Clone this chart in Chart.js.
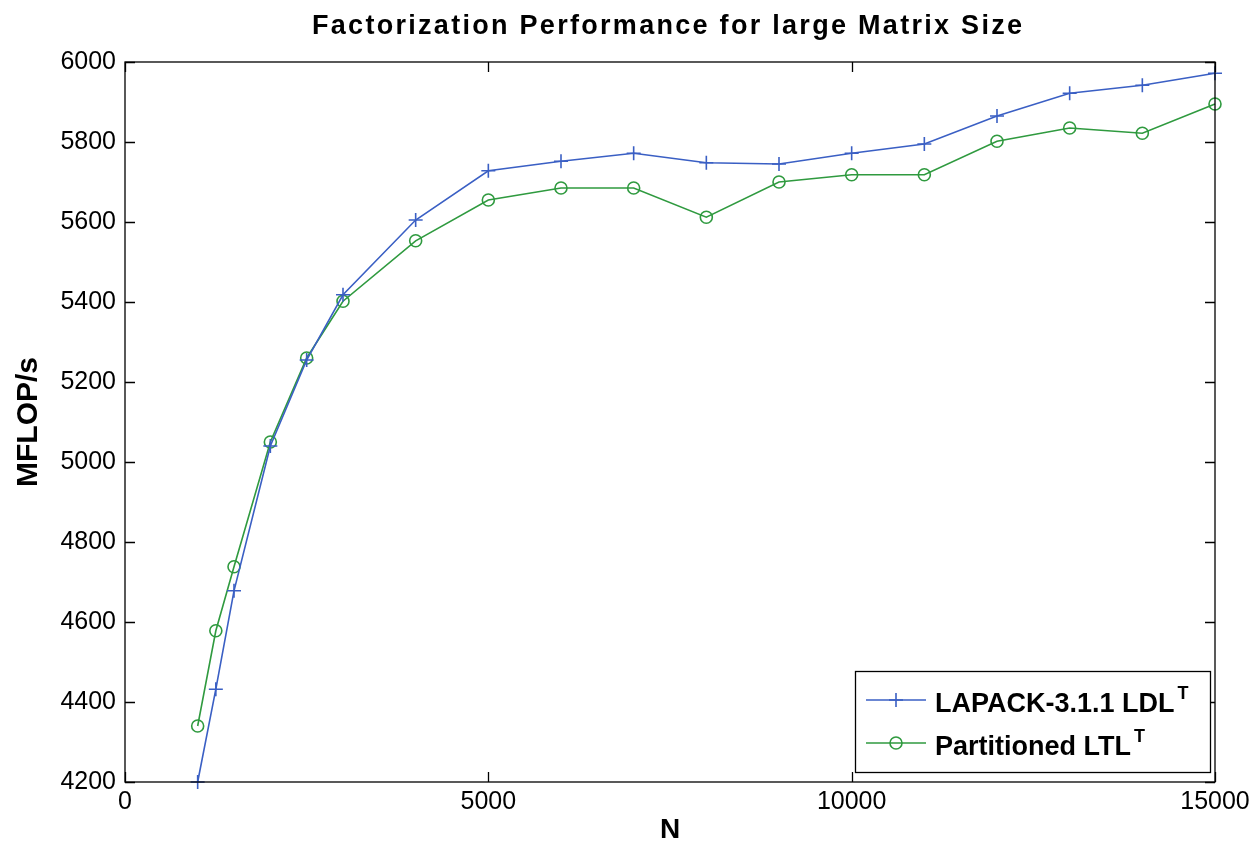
<!DOCTYPE html>
<html>
<head>
<meta charset="utf-8">
<script src="https://cdn.jsdelivr.net/npm/chart.js@4/dist/chart.umd.min.js"></script>
<style>
html,body{margin:0;padding:0;background:#fff;}
#wrap{width:1255px;height:851px;}
</style>
</head>
<body>
<div id="wrap"><canvas id="c" width="1255" height="851"></canvas></div>
<script>
const N = [1000,1250,1500,2000,2500,3000,4000,5000,6000,7000,8000,9000,10000,11000,12000,13000,14000,15000];
const lapack = [4200,4432,4678,5040,5255,5418,5605,5728,5752,5772,5748,5745,5772,5795,5865,5922,5942,5972];
const partitioned = [4340,4578,4738,5050,5260,5402,5553,5655,5685,5685,5612,5700,5718,5718,5802,5835,5822,5895];
const xTicks = [0,5000,10000,15000];
const yTicks = [4200,4400,4600,4800,5000,5200,5400,5600,5800,6000];
const seriesNames = ['LAPACK-3.1.1 LDL','Partitioned LTL'];
const seriesSup = ['T','T'];
const titleText = 'Factorization Performance for large Matrix Size';
const blue = '#3a5fc4';
const green = '#2f9a3f';
const FONT = '"Liberation Sans", Arial, Helvetica, sans-serif';

const boxPlugin = {
  id:'boxPlugin',
  afterDraw(chart){
    const ctx = chart.ctx, a = chart.chartArea;
    const xs = chart.scales.x, ys = chart.scales.y;
    ctx.save();
    // title
    ctx.fillStyle = '#000';
    ctx.font = 'bold 27px ' + FONT;
    ctx.textBaseline = 'alphabetic';
    ctx.textAlign = 'left';
    ctx.letterSpacing = '0px';
    const tw = ctx.measureText(titleText).width;
    const targetW = 710;
    const ls = (targetW - tw) / (titleText.length - 1);
    ctx.letterSpacing = ls.toFixed(2) + 'px';
    const tw2 = ctx.measureText(titleText).width - ls;
    ctx.fillText(titleText, 667 - tw2/2, 34);
    ctx.letterSpacing = '0px';

    ctx.strokeStyle = '#000';
    ctx.lineWidth = 1.3;
    ctx.strokeRect(a.left, a.top, a.right - a.left, a.bottom - a.top);
    const L = 10;
    ctx.beginPath();
    xTicks.forEach(v=>{
      const px = Math.round(xs.getPixelForValue(v))+0.5;
      ctx.moveTo(px, a.bottom); ctx.lineTo(px, a.bottom - L);
      ctx.moveTo(px, a.top); ctx.lineTo(px, a.top + L);
    });
    yTicks.forEach(v=>{
      const py = Math.round(ys.getPixelForValue(v))+0.5;
      ctx.moveTo(a.left, py); ctx.lineTo(a.left + L, py);
      ctx.moveTo(a.right, py); ctx.lineTo(a.right - L, py);
    });
    ctx.stroke();

    // legend
    const lx = 855, ly = 671, lw = 355, lh = 101;
    ctx.fillStyle = '#fff';
    ctx.fillRect(lx, ly, lw, lh);
    ctx.lineWidth = 1.3;
    ctx.strokeStyle = '#000';
    ctx.strokeRect(lx+0.5, ly+0.5, lw, lh);
    const rows = [700, 743];
    const bases = [712, 755];
    const colors = [blue, green];
    rows.forEach((ry, i)=>{
      ctx.strokeStyle = colors[i];
      ctx.lineWidth = 1.6;
      ctx.beginPath();
      ctx.moveTo(866, ry); ctx.lineTo(926, ry);
      ctx.stroke();
      const cx = 896;
      ctx.beginPath();
      if(i===0){
        ctx.moveTo(cx-7, ry); ctx.lineTo(cx+7, ry);
        ctx.moveTo(cx, ry-7); ctx.lineTo(cx, ry+7);
      } else {
        ctx.arc(cx, ry, 6, 0, Math.PI*2);
      }
      ctx.stroke();
      ctx.fillStyle = '#000';
      ctx.textBaseline = 'alphabetic';
      ctx.textAlign = 'left';
      ctx.font = 'bold 27px ' + FONT;
      ctx.fillText(seriesNames[i], 935, bases[i]);
      const w = ctx.measureText(seriesNames[i]).width;
      ctx.font = 'bold 18px ' + FONT;
      ctx.fillText(seriesSup[i], 935 + w + 3, bases[i] - 13);
    });
    ctx.restore();
  }
};

new Chart(document.getElementById('c'), {
  type:'line',
  data:{
    datasets:[
      {label:seriesNames[0], data:N.map((n,i)=>({x:n,y:lapack[i]})), borderColor:blue, backgroundColor:'transparent',
       borderWidth:1.6, pointStyle:'cross', pointRadius:7, pointBorderWidth:1.6, pointBorderColor:blue, tension:0, clip:false},
      {label:seriesNames[1], data:N.map((n,i)=>({x:n,y:partitioned[i]})), borderColor:green, backgroundColor:'transparent',
       borderWidth:1.6, pointStyle:'circle', pointRadius:6, pointBorderWidth:1.6, pointBorderColor:green, pointBackgroundColor:'rgba(0,0,0,0)', tension:0, clip:false}
    ]
  },
  options:{
    responsive:false,
    animation:false,
    devicePixelRatio:1,
    layout:{padding:{left:0,right:40,top:62,bottom:0}},
    plugins:{
      legend:{display:false},
      tooltip:{enabled:false},
      title:{display:false}
    },
    scales:{
      x:{type:'linear', min:0, max:15000,
        afterBuildTicks(s){ s.ticks = xTicks.map(v=>({value:v})); },
        afterFit(s){ s.height = 69; },
        grid:{display:false, drawTicks:false}, border:{display:false},
        ticks:{color:'#000', padding:5, maxRotation:0, autoSkip:false, callback:v=>String(v),
          font:{family:FONT, size:25}},
        title:{display:true, text:'N', color:'#000', padding:{top:0,bottom:4},
          font:{family:FONT, size:28, weight:'bold'}}
      },
      y:{type:'linear', min:4200, max:6000,
        afterBuildTicks(s){ s.ticks = yTicks.map(v=>({value:v})); },
        afterFit(s){ s.width = 125; },
        grid:{display:false, drawTicks:false}, border:{display:false},
        ticks:{color:'#000', padding:9, autoSkip:false, callback:v=>String(v),
          font:{family:FONT, size:25}},
        title:{display:true, text:'MFLOP/s', color:'#000', padding:{top:11,bottom:0},
          font:{family:FONT, size:30, weight:'bold'}}
      }
    }
  },
  plugins:[boxPlugin]
});
</script>
</body>
</html>
